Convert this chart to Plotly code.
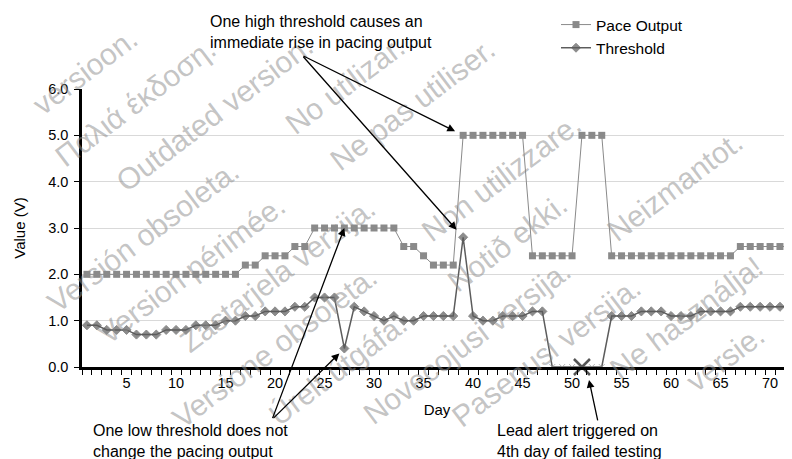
import plotly.graph_objects as go

# ---------------- data ----------------
days = list(range(1, 73))
pace_output = ([2.0] * 16 + [2.2] * 2 + [2.4] * 3 + [2.6] * 2 + [3.0] * 9 +
               [2.6] * 2 + [2.4] + [2.2] * 3 + [5.0] * 7 + [2.4] * 5 +
               [5.0] * 3 + [2.4] * 13 + [2.6] * 6)
threshold = ([0.9] * 2 + [0.8] * 3 + [0.7] * 3 + [0.8] * 3 + [0.9] * 3 +
             [1.0] * 2 + [1.1] * 2 + [1.2] * 3 + [1.3] * 2 + [1.5] * 3 +
             [0.4, 1.3, 1.2, 1.1, 1.0, 1.1, 1.0, 1.0] + [1.1] * 4 + [2.8] +
             [1.1, 1.0, 1.0] + [1.1] * 3 + [1.2] * 2 + [0.0] * 6 +
             [1.1] * 3 + [1.2] * 3 + [1.1] * 3 + [1.2] * 4 + [1.3] * 6)
failed_days = [48, 49, 50, 51, 52, 53]
alert_day = 51
x_tick_vals = list(range(5, 71, 5))
y_tick_vals = [0, 1, 2, 3, 4, 5, 6]

# watermark lines: (diagonal offset, preferred start along line, phrases)
watermark_lines = [
    (106, 1000, ["versioon."]),
    (162, -56, ["Παλιά έκδοση."]),
    (218, -31, ["Outdated version.", "Do not use."]),
    (274, -64, ["Versión obsoleta.", "No utilizar."]),
    (330, -78, ["Version périmée.", "Ne pas utiliser."]),
    (386, -94, ["Zastarjela verzija.", "Nemojte upotrebljavati."]),
    (442, -1000, ["Versione obsoleta.", "Non utilizzare."]),
    (498, -56, ["Úrelt útgáfa.", "Notið ekki."]),
    (554, -1000, ["Novecojusi versija.", "Neizmantot."]),
    (610, -1000, ["Pasenusi versija.", "Nenaudokite."]),
    (666, 1000, ["Ne használja!"]),
    (722, 1000, ["versie."]),
]

# ---------------- layout geometry ----------------
# the page body adds an 8px offset, so the figure is drawn 8px smaller
OFF = 8
PW, PH = 792, 459          # page (screenshot) size
W, H = PW - OFF, PH - OFF
ML, MR, MT, MB = 82 - OFF, 0, 87 - OFF, 92
PX_PER_DAY = 9.9
plot_w = W - ML - MR
plot_h = H - MT - MB
x_range = [0.5, 0.5 + plot_w / PX_PER_DAY]
y_range = [0, 6]


def PX(px):   # page pixel -> paper x
    return (px - OFF - ML) / plot_w


def PY(py):   # page pixel -> paper y
    return (H - MB - (py - OFF)) / plot_h


def X(px):    # page pixel -> data x
    return x_range[0] + (px - OFF - ML) / PX_PER_DAY


def Y(py):    # page pixel -> data y
    return y_range[0] + PY(py) * (y_range[1] - y_range[0])


FONT = "Liberation Sans, Arial, sans-serif"
PACE_C = "#8a8a8a"
THR_C = "#5c5c5c"

# ---------------- watermark placement ----------------
WM_FS = 30
WM_ANG = 37
import math
cs, sn = math.cos(math.radians(WM_ANG)), math.sin(math.radians(WM_ANG))
u = (cs, -sn)      # along text
n = (sn, cs)       # perpendicular
MARG = 6


def t_limits(d, L, h):
    ax_ = MARG + (L / 2) * cs + (h / 2) * sn + OFF
    ay_ = MARG + (L / 2) * sn + (h / 2) * cs + OFF
    lo = max((ax_ - n[0] * d) / u[0],
             (n[1] * d - (PH - ay_)) / sn)
    hi = min((n[1] * d - ay_) / sn,
             (PW - ax_ - n[0] * d) / u[0])
    return lo, hi


wm_annots = []
for d, t0, phrases in watermark_lines:
    lens = [len(p) * 0.53 * WM_FS for p in phrases]
    gap = 22
    # lay phrases out from t0, then clamp the chain into the picture
    while phrases:
        total = sum(lens) + gap * (len(lens) - 1)
        lo0, _ = t_limits(d, lens[0], WM_FS)
        _, hi1 = t_limits(d, lens[-1], WM_FS)
        start = t0
        start = max(start, lo0 - lens[0] / 2)
        end = start + total
        if end > hi1 + lens[-1] / 2:
            start -= end - (hi1 + lens[-1] / 2)
        if start < lo0 - lens[0] / 2 - 0.5:
            phrases, lens = phrases[:-1], lens[:-1]
            continue
        break
    t = start
    for p, L in zip(phrases, lens):
        tc = t + L / 2
        cx = n[0] * d + u[0] * tc
        cy = n[1] * d + u[1] * tc
        wm_annots.append(dict(
            text=p, x=PX(cx), y=PY(cy), xref="paper", yref="paper",
            xanchor="center", yanchor="middle", showarrow=False,
            textangle=-WM_ANG,
            font=dict(family=FONT, size=WM_FS, color="rgba(140,140,140,0.52)"),
        ))
        t += L + gap

thr_symbols = ["x-thin" if d in failed_days else "diamond" for d in days]
thr_sizes = [6 if d in failed_days else 7 for d in days]
thr_line_c = ["#9a9a9a" if d in failed_days else THR_C for d in days]

fig = go.Figure()
fig.add_trace(go.Scatter(
    x=days, y=pace_output, name="Pace Output", mode="lines+markers",
    line=dict(color=PACE_C, width=1),
    marker=dict(symbol="square", size=7, color=PACE_C),
    cliponaxis=False,
))
fig.add_trace(go.Scatter(
    x=days, y=threshold, name="Threshold", mode="lines+markers",
    line=dict(color=THR_C, width=1.5),
    marker=dict(symbol=thr_symbols, size=thr_sizes, color=THR_C,
                line=dict(color=thr_line_c, width=1)),
    cliponaxis=False,
))
fig.add_trace(go.Scatter(
    x=[alert_day], y=[threshold[alert_day - 1]], mode="markers",
    showlegend=False, hoverinfo="skip",
    marker=dict(symbol="x-thin", size=16, line=dict(color="#555555", width=2.5)),
    cliponaxis=False,
))

ARROW = dict(showarrow=True, arrowhead=2, arrowsize=1.2, arrowwidth=1.3,
             arrowcolor="black", text="")

annotations = list(wm_annots)
annotations += [
    # high threshold
    dict(x=39, y=pace_output[38], ax=X(302), ay=Y(53), standoff=9,
         xref="x", yref="y", axref="x", ayref="y", **ARROW),
    dict(x=39, y=threshold[38], ax=X(302), ay=Y(53), standoff=10,
         xref="x", yref="y", axref="x", ayref="y", **ARROW),
    # low threshold
    dict(x=27, y=pace_output[26], ax=X(272), ay=Y(420), standoff=0,
         xref="x", yref="y", axref="x", ayref="y", **ARROW),
    dict(x=27, y=threshold[26], ax=X(272), ay=Y(420), standoff=7,
         xref="x", yref="y", axref="x", ayref="y", **ARROW),
    # lead alert
    dict(x=PX(589), y=PY(380), ax=9, ay=42, standoff=0,
         xref="paper", yref="paper", axref="pixel", ayref="pixel", **ARROW),
]
TEXT = dict(showarrow=False, xref="paper", yref="paper", xanchor="left",
            yanchor="middle", align="left",
            font=dict(family=FONT, size=16, color="black"))
annotations += [
    dict(x=PX(208), y=PY(30), text="One high threshold causes an<br>immediate rise in pacing output", **TEXT),
    dict(x=PX(91), y=PY(442), text="One low threshold does not<br>change the pacing output", **TEXT),
    dict(x=PX(495), y=PY(442), text="Lead alert triggered on<br>4th day of failed testing", **TEXT),
]

fig.update_layout(
    width=W, height=H,
    margin=dict(l=ML, r=MR, t=MT, b=MB),
    paper_bgcolor="white", plot_bgcolor="white",
    font=dict(family=FONT, size=15, color="black"),
    showlegend=True,
    legend=dict(x=PX(556), y=PY(5), xanchor="left", yanchor="top",
                bgcolor="rgba(0,0,0,0)", font=dict(family=FONT, size=15.5),
                tracegroupgap=0, itemwidth=30),
    annotations=annotations,
)
fig.update_xaxes(
    range=x_range, tickmode="array", tickvals=x_tick_vals,
    ticks="outside", ticklen=1, tickcolor="rgba(0,0,0,0)",
    showline=True, linecolor="black", linewidth=2.5, showgrid=False,
    zeroline=False, tickfont=dict(family=FONT, size=14.5),
    minor=dict(tick0=0.5, dtick=1, ticks="outside", ticklen=5,
               tickcolor="black", tickwidth=1.3, showgrid=False),
    title=dict(text="Day", font=dict(family=FONT, size=15), standoff=15),
)
fig.update_yaxes(
    range=y_range, tickmode="array", tickvals=y_tick_vals, tickformat=".1f",
    ticks="outside", ticklen=5, tickcolor="black", tickwidth=1.3,
    showline=True, linecolor="black", linewidth=2.5,
    showgrid=True, gridcolor="#d9d9d9", gridwidth=1, zeroline=False,
    tickfont=dict(family=FONT, size=14.5), ticklabelstandoff=3,
    title=dict(text="Value (V)", font=dict(family=FONT, size=15), standoff=19),
)

fig.write_html("out.html")
